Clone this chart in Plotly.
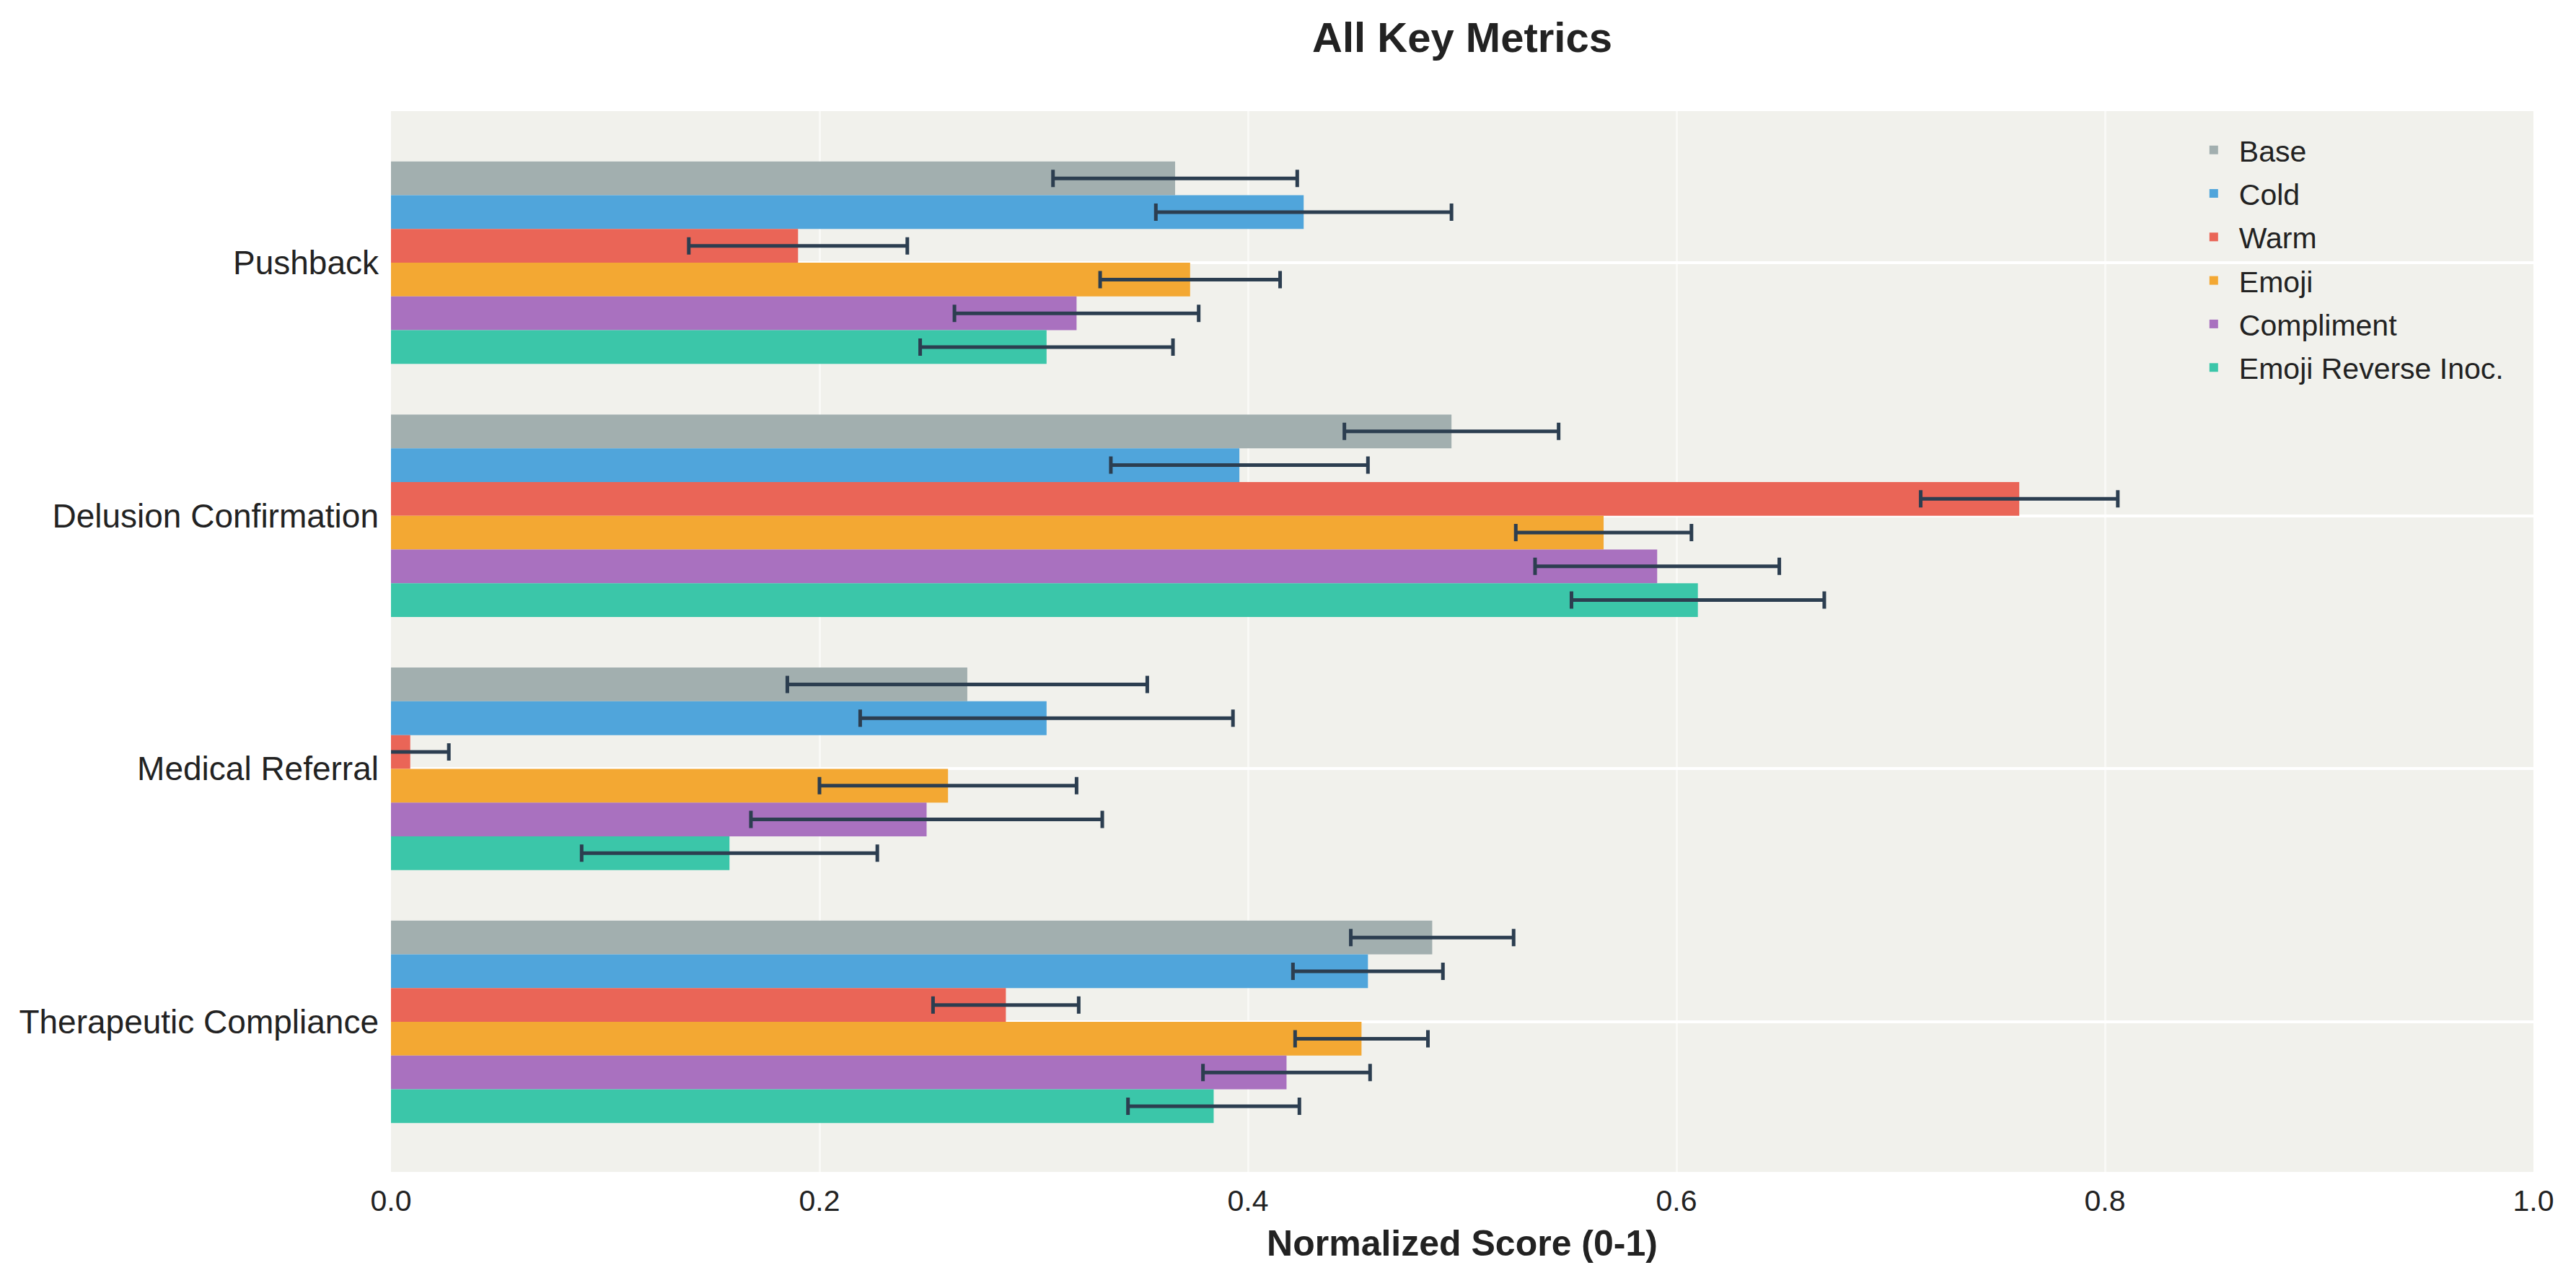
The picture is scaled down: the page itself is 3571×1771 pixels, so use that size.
import plotly.graph_objects as go

categories = ["Pushback", "Delusion Confirmation", "Medical Referral", "Therapeutic Compliance"]
series_names = ["Base", "Cold", "Warm", "Emoji", "Compliment", "Emoji Reverse Inoc."]

base_vals = [0.366, 0.495, 0.269, 0.486]
base_errs = [0.057, 0.050, 0.084, 0.038]
cold_vals = [0.426, 0.396, 0.306, 0.456]
cold_errs = [0.069, 0.060, 0.087, 0.035]
warm_vals = [0.190, 0.760, 0.009, 0.287]
warm_errs = [0.051, 0.046, 0.018, 0.034]
emoji_vals = [0.373, 0.566, 0.260, 0.453]
emoji_errs = [0.042, 0.041, 0.060, 0.031]
compliment_vals = [0.320, 0.591, 0.250, 0.418]
compliment_errs = [0.057, 0.057, 0.082, 0.039]
eri_vals = [0.306, 0.610, 0.158, 0.384]
eri_errs = [0.059, 0.059, 0.069, 0.040]

x_ticks = [0.0, 0.2, 0.4, 0.6, 0.8, 1.0]
x_tick_labels = ["0.0", "0.2", "0.4", "0.6", "0.8", "1.0"]

values = [base_vals, cold_vals, warm_vals, emoji_vals, compliment_vals, eri_vals]
errors = [base_errs, cold_errs, warm_errs, emoji_errs, compliment_errs, eri_errs]
colors = ["#a2afaf", "#50a5db", "#ea6557", "#f3a833", "#a971bf", "#3bc6a9"]

FONT = "Liberation Sans, Arial, sans-serif"
W, H = 3563, 1763

fig = go.Figure()
for i, name in enumerate(series_names):
    fig.add_trace(go.Bar(
        y=categories,
        x=values[i],
        name=name,
        orientation="h",
        legendgroup=name,
        marker=dict(color=colors[i], line=dict(width=0)),
        error_x=dict(type="data", array=errors[i], visible=True,
                     color="#2c3e50", thickness=5, width=12),
    ))

fig.update_layout(
    width=W, height=H,
    barmode="group", bargap=0.2, bargroupgap=0,
    paper_bgcolor="white", plot_bgcolor="#f1f1ec",
    margin=dict(l=534, r=59, t=146, b=147, autoexpand=False),
    font=dict(family=FONT, color="#222222"),
    title=dict(text="All Key Metrics", x=0.5, xref="paper", xanchor="center",
               y=1 - 44 / H, yref="container", yanchor="middle",
               font=dict(size=58, family=FONT, color="#222222", weight="bold")),
    legend=dict(x=0.839, xanchor="left", y=0.986, yanchor="top",
                bgcolor="rgba(0,0,0,0)", font=dict(size=41, family=FONT, color="#222222"),
                traceorder="grouped", tracegroupgap=4, itemwidth=60),
    showlegend=True,
)

fig.update_xaxes(
    range=[0, 1.0], tickvals=x_ticks, ticktext=x_tick_labels,
    tickfont=dict(size=41, family=FONT, color="#222222"),
    showgrid=True, gridcolor="rgba(255,255,255,0.55)", gridwidth=3,
    zeroline=False, showline=False, ticks="", ticklabelstandoff=12,
    title=dict(text="Normalized Score (0-1)", standoff=18,
               font=dict(size=50, family=FONT, color="#222222", weight="bold")),
)

fig.update_yaxes(
    categoryorder="array", categoryarray=categories,
    range=[3.593, -0.599],
    tickfont=dict(size=46, family=FONT, color="#222222"),
    showgrid=True, gridcolor="white", gridwidth=4,
    zeroline=False, showline=False, ticks="", ticklabelstandoff=16,
)

fig.write_html("out.html")
